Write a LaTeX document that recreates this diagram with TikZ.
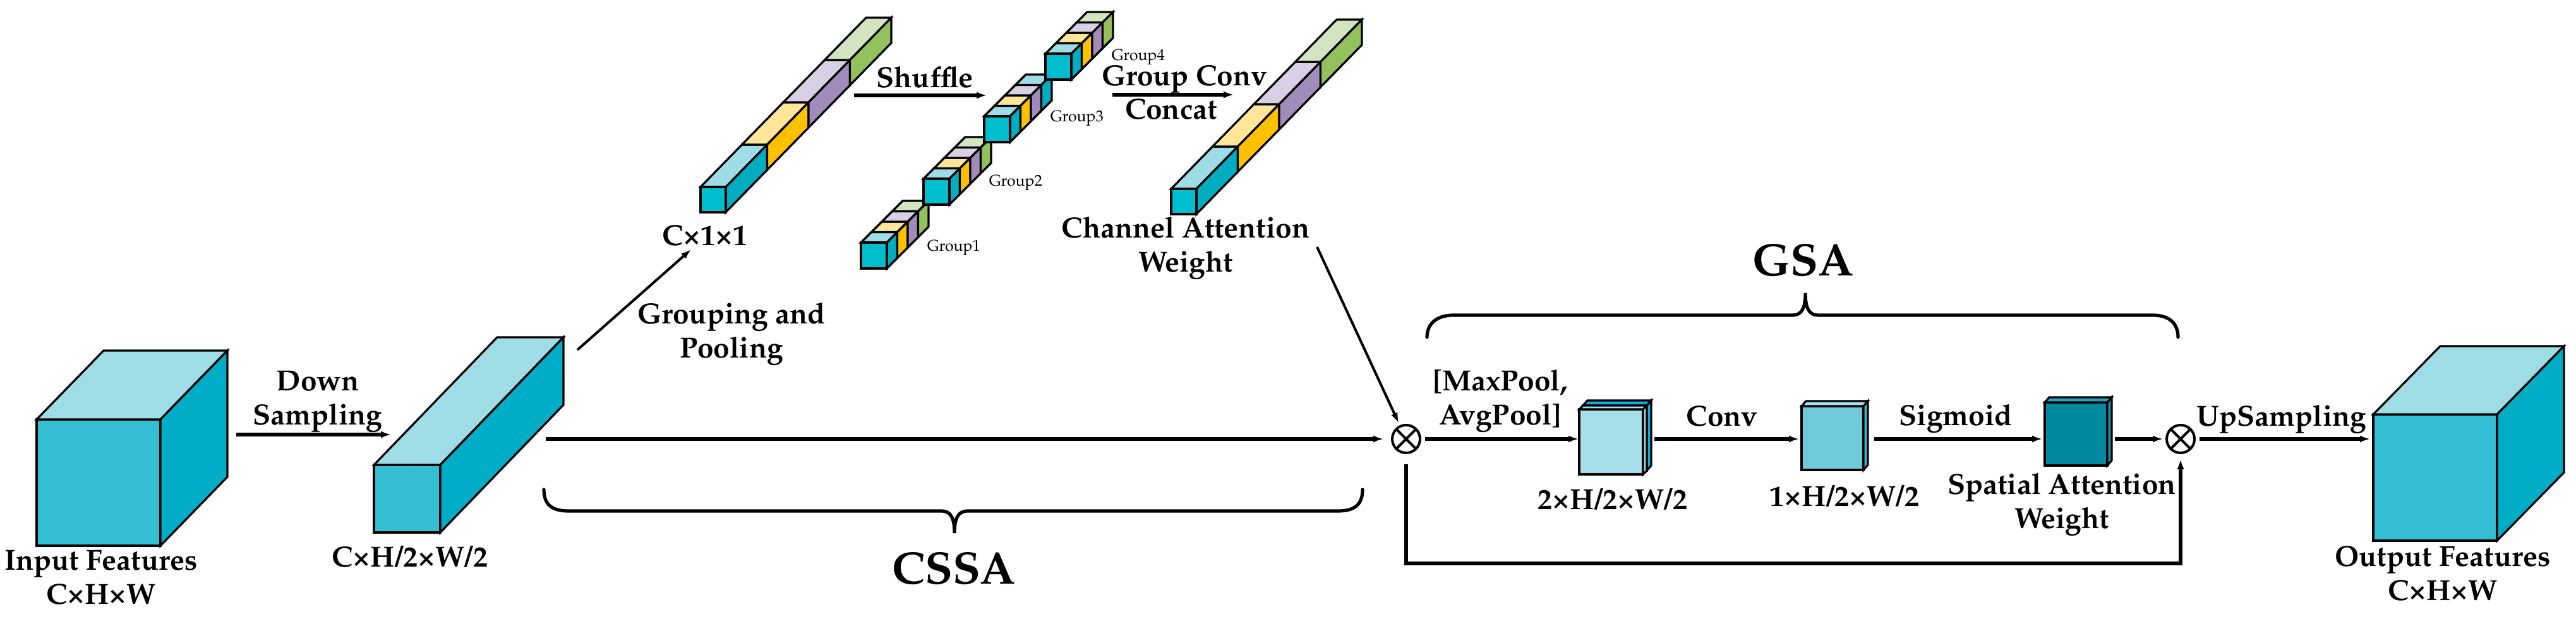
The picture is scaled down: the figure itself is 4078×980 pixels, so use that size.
\documentclass[tikz,border=0pt]{standalone}
\usepackage[T1]{fontenc}
\usepackage{mathpazo}
\usetikzlibrary{arrows.meta}

\definecolor{cubeF}{HTML}{34BED4}
\definecolor{cubeT}{HTML}{9EDDE6}
\definecolor{cubeS}{HTML}{00ADC6}
\definecolor{segF}{HTML}{00BECE}
\definecolor{segCt}{HTML}{9EDDE6}
\definecolor{segCs}{HTML}{00ADC0}
\definecolor{segYt}{HTML}{FFE699}
\definecolor{segYs}{HTML}{FFC000}
\definecolor{segPt}{HTML}{D9D0E3}
\definecolor{segPs}{HTML}{A18BBB}
\definecolor{segGt}{HTML}{D3E4C1}
\definecolor{segGs}{HTML}{93C15E}
\definecolor{mapA}{HTML}{A6DFEA}
\definecolor{mapAb}{HTML}{14ACE0}
\definecolor{mapB}{HTML}{6FCBDC}
\definecolor{mapBt}{HTML}{A8DFEA}
\definecolor{mapBs}{HTML}{3FB8D0}
\definecolor{mapC}{HTML}{00899F}
\definecolor{mapCt}{HTML}{1BA8C4}
\definecolor{mapCs}{HTML}{0A9AB4}

\tikzset{
  boxline/.style={draw=black,line width=0.8pt},
  lbl/.style={font=\bfseries\fontsize{11.5}{13.5}\selectfont,align=center,inner sep=0pt},
  biglbl/.style={font=\bfseries\fontsize{18}{20}\selectfont,inner sep=0pt},
  grplbl/.style={font=\fontsize{6.2}{7}\selectfont,inner sep=0pt},
  arr/.style={line width=1.35pt,-{Latex[length=4pt,width=2.8pt]}},
  thinarr/.style={line width=1pt,-{Latex[length=4pt,width=2.8pt]}},
  brace/.style={line width=1.3pt,line cap=round},
  mult/.style={circle,draw,line width=1pt,minimum size=11pt,inner sep=0pt,
    path picture={\draw[line width=1pt]
      (path picture bounding box.north west) -- (path picture bounding box.south east)
      (path picture bounding box.north east) -- (path picture bounding box.south west);}}
}

% x y w h dx dy front top side
\newcommand{\cuboid}[9]{%
  \filldraw[fill=#7,boxline] (#1,#2) rectangle ++(#3,#4);
  \filldraw[fill=#8,boxline] (#1,#2) -- ++(#5,#6) -- ++(#3,0) -- (#1+#3,#2) -- cycle;
  \filldraw[fill=#9,boxline] (#1+#3,#2) -- ++(#5,#6) -- ++(0,#4) -- (#1+#3,#2+#4) -- cycle;
}
% x y size dx dy colour pairs
\newcommand{\segbar}[6]{%
  \foreach \tp/\sd [count=\i from 0] in {#6}{
    \filldraw[fill=\tp,boxline] (#1+\i*#4,#2+\i*#5) -- ++(#4,#5) -- ++(#3,0) -- (#1+#3+\i*#4,#2+\i*#5) -- cycle;
    \filldraw[fill=\sd,boxline] (#1+#3+\i*#4,#2+\i*#5) -- ++(#4,#5) -- ++(0,#3) -- (#1+#3+\i*#4,#2+#3+\i*#5) -- cycle;
  }
  \filldraw[fill=segF,boxline] (#1,#2) rectangle ++(#3,#3);
}
\newcommand{\tms}{\texttimes}

\begin{document}
\begin{tikzpicture}[x=0.25pt,y=-0.25pt]
  \useasboundingbox (0,0) rectangle (4078,980);

  % feature maps
  \cuboid{58}{664}{196}{200}{106}{-109}{cubeF}{cubeT}{cubeS}
  \cuboid{592}{736}{105}{107}{195}{-202}{cubeF}{cubeT}{cubeS}
  \cuboid{3757}{656}{196}{200}{106}{-108}{cubeF}{cubeT}{cubeS}

  % channel bars
  \segbar{1109}{296}{40}{65.5}{-67}{segCt/segCs,segYt/segYs,segPt/segPs,segGt/segGs}
  \segbar{1854}{299}{40}{65.5}{-67}{segCt/segCs,segYt/segYs,segPt/segPs,segGt/segGs}
  % groups
  \segbar{1363}{384}{41}{16.5}{-16.5}{segCt/segCs,segYt/segYs,segPt/segPs,segGt/segGs}
  \segbar{1462}{283}{41}{16.5}{-16.5}{segCt/segCs,segYt/segYs,segPt/segPs,segGt/segGs}
  \segbar{1558}{184}{41}{16.5}{-16.5}{segCt/segCs,segYt/segYs,segPt/segPs,segCt/segCs}
  \segbar{1655}{85}{41}{16.5}{-16.5}{segCt/segCs,segYt/segYs,segPt/segPs,segGt/segGs}

  % spatial maps
  \cuboid{2506}{642}{101}{103}{7}{-8}{mapAb}{mapAb}{mapAb}
  \cuboid{2500}{648}{101}{103}{6}{-6}{mapA}{mapA}{mapA}
  \cuboid{2852}{643}{98}{101}{7}{-8}{mapB}{mapBt}{mapBs}
  \cuboid{3237}{637}{99}{100}{7}{-8}{mapC}{mapCt}{mapCs}

  % labels
  \node[lbl] (inLbl) at (160,914) {Input Features\\C\tms H\tms W};
  \node[lbl] (dsLbl) at (503,636) {Down\\Sampling};
  \node[lbl,anchor=base] (halfLbl) at (649,898) {C\tms H/2\tms W/2};
  \node[lbl,anchor=base] (c11Lbl) at (1116,389) {C\tms 1\tms 1};
  \node[lbl] (gpLbl) at (1158,529) {Grouping and\\Pooling};
  \node[lbl,anchor=base] (shLbl) at (1464,139) {Shuffle};
  \node[grplbl,anchor=base west] (g1Lbl) at (1467,398) {Group1};
  \node[grplbl,anchor=base west] (g2Lbl) at (1565,295) {Group2};
  \node[grplbl,anchor=base west] (g3Lbl) at (1662,193) {Group3};
  \node[grplbl,anchor=base west] (g4Lbl) at (1759,96) {Group4};
  \node[lbl,anchor=base] (gcLbl) at (1875,136) {Group Conv};
  \node[lbl,anchor=base] (ccLbl) at (1854,189) {Concat};
  \node[lbl] (cawLbl) at (1877,393) {Channel Attention\\Weight};
  \node[biglbl,anchor=base] (cssaLbl) at (1510,925) {CSSA};
  \node[biglbl,anchor=base] (gsaLbl) at (2854,437) {GSA};
  \node[lbl] (poolLbl) at (2375,635) {[MaxPool,\\AvgPool]};
  \node[lbl,anchor=base] (twoLbl) at (2553,807) {2\tms H/2\tms W/2};
  \node[lbl,anchor=base] (convLbl) at (2726,675) {Conv};
  \node[lbl,anchor=base] (oneLbl) at (2920,802) {1\tms H/2\tms W/2};
  \node[lbl,anchor=base] (sigLbl) at (3096,674) {Sigmoid};
  \node[lbl] (sawLbl) at (3264,799) {Spatial Attention\\Weight};
  \node[lbl,anchor=base] (upLbl) at (3612,675) {UpSampling};
  \node[lbl] (outLbl) at (3867,908) {Output Features\\C\tms H\tms W};

  % multiply nodes
  \node[mult] (mulA) at (2226,695) {};
  \node[mult] (mulB) at (3452,695) {};

  % connector ends
  \coordinate (inR) at (374,688);
  \coordinate (halfL) at (619,688);
  \coordinate (halfT) at (914,554);
  \coordinate (c11B) at (1094,395);
  \coordinate (halfR) at (864,695);
  \coordinate (shL) at (1352,151);
  \coordinate (shR) at (1562,151);
  \coordinate (gcL) at (1761,150);
  \coordinate (gcR) at (1953,150);
  \coordinate (cawB) at (2085,391);
  \coordinate (mapAl) at (2499,695);
  \coordinate (mapAr) at (2619,695);
  \coordinate (mapBl) at (2848,695);
  \coordinate (mapBr) at (2967,695);
  \coordinate (mapCl) at (3233,695);
  \coordinate (mapCr) at (3348,695);
  \coordinate (outL) at (3752,695);
  \coordinate (bypL) at (2226,892);
  \coordinate (bypR) at (3452,892);

  % arrows
  \draw[arr] (inR) -- (halfL);
  \draw[thinarr] (halfT) -- (c11B);
  \draw[arr] (shL) -- (shR);
  \draw[arr] (gcL) -- (gcR);
  \draw[arr,shorten >=3pt] (halfR) -- (mulA);
  \draw[thinarr,shorten >=1pt] (cawB) -- (mulA);
  \draw[arr,shorten <=1.5pt] (mulA) -- (mapAl);
  \draw[arr] (mapAr) -- (mapBl);
  \draw[arr] (mapBr) -- (mapCl);
  \draw[arr,shorten >=1pt] (mapCr) -- (mulB);
  \draw[arr,shorten <=1.5pt] (mulB) -- (outL);
  \draw[arr,shorten <=4pt,shorten >=2pt] (mulA.south) -- (bypL) -- (bypR) -- (mulB.south);

  % braces
  \draw[brace] (861,775) .. controls (861,800) and (875,809) .. (900,809) -- (1490,809)
    .. controls (1505,809) and (1511,820) .. (1511,844)
    .. controls (1511,820) and (1517,809) .. (1532,809) -- (2118,809)
    .. controls (2143,809) and (2157,800) .. (2157,775);
  \draw[brace] (2259,534) .. controls (2259,512) and (2275,499) .. (2301,499) -- (2838,499)
    .. controls (2852,499) and (2858,488) .. (2858,464)
    .. controls (2858,488) and (2864,499) .. (2878,499) -- (3408,499)
    .. controls (3434,499) and (3448,512) .. (3448,534);
\end{tikzpicture}
\end{document}
